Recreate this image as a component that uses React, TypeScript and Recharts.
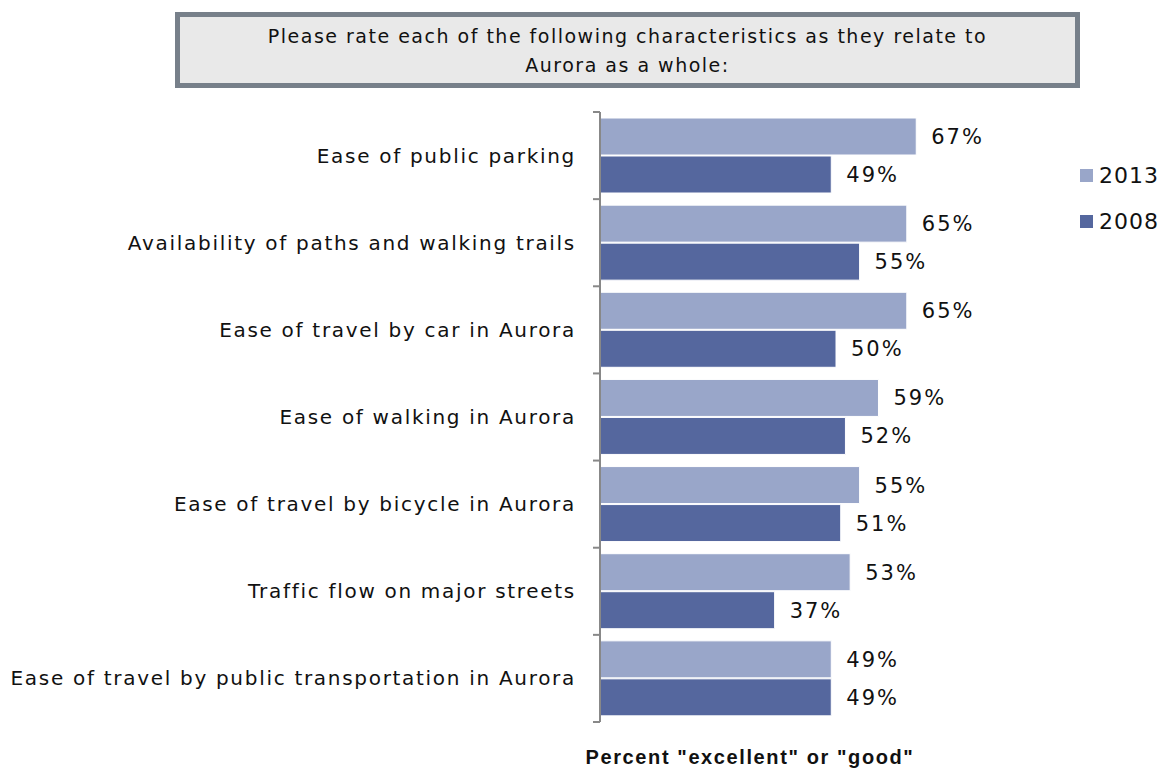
import React from "react";
import { BarChart, Bar, XAxis, YAxis, LabelList } from "recharts";

const categories = [
  "Ease of public parking",
  "Availability of paths and walking trails",
  "Ease of travel by car in Aurora",
  "Ease of walking in Aurora",
  "Ease of travel by bicycle in Aurora",
  "Traffic flow on major streets",
  "Ease of travel by public transportation in Aurora",
];
const values2013 = [67, 65, 65, 59, 55, 53, 49];
const values2008 = [49, 55, 50, 52, 51, 37, 49];

const data = categories.map((name, i) => ({
  name,
  y2013: values2013[i],
  y2008: values2008[i],
}));

const C2013 = "#99A6C9";
const C2008 = "#55679E";
const AXIS = "#888888";
const FONT = "'DejaVu Sans', sans-serif";
const TICK_SIZE = 7;
const TICK_MARGIN = 17;

const CatTick = (props: any) => {
  const { x, y, payload, index, visibleTicksCount } = props;
  const axisX = x + TICK_SIZE + TICK_MARGIN;
  const half = payload && typeof payload.offset === "number" ? payload.offset : 0;
  const isLast = index === (visibleTicksCount ?? categories.length) - 1;
  return (
    <g>
      <line x1={axisX - TICK_SIZE} x2={axisX} y1={y - half} y2={y - half} stroke={AXIS} strokeWidth={2} />
      {isLast && (
        <line x1={axisX - TICK_SIZE} x2={axisX} y1={y + half} y2={y + half} stroke={AXIS} strokeWidth={2} />
      )}
      <text x={x} y={y} dy={7} textAnchor="end" fontFamily={FONT} fontSize={20} letterSpacing={1.7} fill="#111">
        {payload.value}
      </text>
    </g>
  );
};

const LegendBox = () => {
  const items = [
    { label: "2013", color: C2013 },
    { label: "2008", color: C2008 },
  ];
  return (
    <div style={{ position: "absolute", left: 1080, top: 152 }}>
      {items.map((it) => (
        <div key={it.label} style={{ display: "flex", alignItems: "center", height: 46 }}>
          <div style={{ width: 13, height: 13, background: it.color, marginRight: 6 }} />
          <span style={{ fontFamily: FONT, fontSize: 22, letterSpacing: 1, color: "#111" }}>{it.label}</span>
        </div>
      ))}
    </div>
  );
};

export default function App() {
  return (
    <div style={{ position: "absolute", left: 0, top: 0, width: 1165, height: 771, background: "#fff", overflow: "hidden" }}>
      <div
        style={{
          position: "absolute",
          left: 175,
          top: 12,
          width: 905,
          height: 76,
          boxSizing: "border-box",
          border: "5px solid #77808A",
          background: "#E9E9E9",
          fontFamily: FONT,
          fontSize: 19,
          letterSpacing: 1.5,
          lineHeight: "29px",
          textAlign: "center",
          color: "#111",
          paddingTop: 5,
        }}
      >
        Please rate each of the following characteristics as they relate to
        <br />
        Aurora as a whole:
      </div>
      <BarChart
        width={1165}
        height={771}
        layout="vertical"
        data={data}
        margin={{ top: 112, right: 93, bottom: 49, left: 0 }}
        barCategoryGap={6}
        barGap={1}
      >
        <XAxis type="number" domain={[0, 100]} hide />
        <YAxis
          type="category"
          dataKey="name"
          width={600}
          axisLine={{ stroke: AXIS, strokeWidth: 2 }}
          tickLine={false}
          tickSize={TICK_SIZE}
          tickMargin={TICK_MARGIN}
          tick={<CatTick />}
          interval={0}
        />
        <Bar dataKey="y2013" name="2013" fill={C2013} stroke="#ffffff" strokeWidth={1} isAnimationActive={false}>
          <LabelList dataKey="y2013" position="right" offset={15} formatter={(v: any) => `${v}%`} fontFamily={FONT} fontSize={21} letterSpacing={2} fill="#111" />
        </Bar>
        <Bar dataKey="y2008" name="2008" fill={C2008} stroke="#ffffff" strokeWidth={1} isAnimationActive={false}>
          <LabelList dataKey="y2008" position="right" offset={15} formatter={(v: any) => `${v}%`} fontFamily={FONT} fontSize={21} letterSpacing={2} fill="#111" />
        </Bar>
      </BarChart>
      <LegendBox />
      <div
        style={{
          position: "absolute",
          left: 500,
          width: 500,
          top: 746,
          textAlign: "center",
          fontFamily: "'Liberation Sans', Arial, sans-serif",
          fontWeight: "bold",
          fontSize: 20,
          letterSpacing: 1.6,
          color: "#111",
        }}
      >
        Percent "excellent" or "good"
      </div>
    </div>
  );
}
